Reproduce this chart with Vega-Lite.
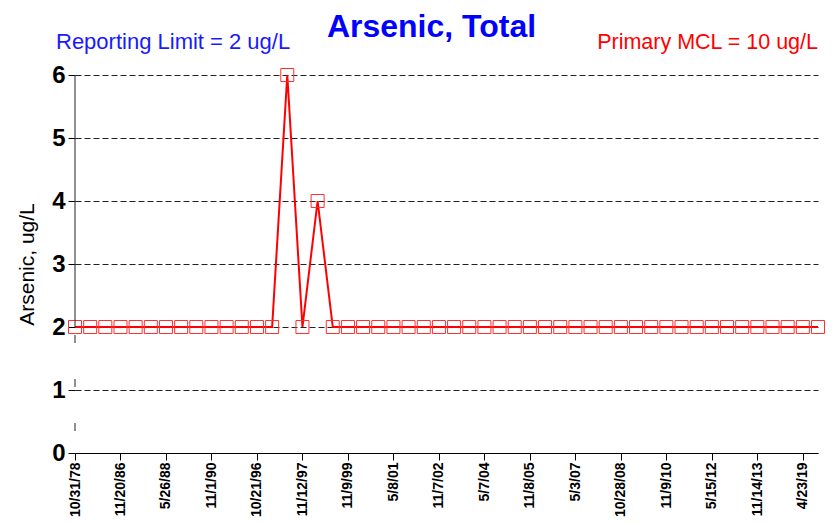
{
  "$schema": "https://vega.github.io/schema/vega-lite/v6.json",
  "width": 743,
  "height": 378,
  "autosize": "none",
  "padding": {"left": 75, "top": 75, "right": 17, "bottom": 71},
  "background": "white",
  "title": {
    "text": "Arsenic, Total",
    "font": "Liberation Sans",
    "fontSize": 32,
    "fontWeight": "bold",
    "color": "#0000ff",
    "anchor": "middle",
    "dx": -15,
    "offset": -38,
    "baseline": "alphabetic"
  },
  "config": {
    "view": {"stroke": null},
    "font": "Liberation Sans"
  },
  "datasets": {
    "arsenic": [
      {"date": "10/31/78", "value": 2},
      {"date": "10/28/81", "value": 2},
      {"date": "11/14/84", "value": 2},
      {"date": "11/20/86", "value": 2},
      {"date": "5/19/87", "value": 2},
      {"date": "11/17/87", "value": 2},
      {"date": "5/26/88", "value": 2},
      {"date": "11/15/88", "value": 2},
      {"date": "5/23/89", "value": 2},
      {"date": "11/1/90", "value": 2},
      {"date": "5/14/91", "value": 2},
      {"date": "11/10/93", "value": 2},
      {"date": "10/21/96", "value": 2},
      {"date": "5/13/97", "value": 2},
      {"date": "8/12/97", "value": 6},
      {"date": "11/12/97", "value": 2},
      {"date": "5/12/98", "value": 4},
      {"date": "11/10/98", "value": 2},
      {"date": "11/9/99", "value": 2},
      {"date": "5/9/00", "value": 2},
      {"date": "11/7/00", "value": 2},
      {"date": "5/8/01", "value": 2},
      {"date": "11/6/01", "value": 2},
      {"date": "5/7/02", "value": 2},
      {"date": "11/7/02", "value": 2},
      {"date": "5/6/03", "value": 2},
      {"date": "11/4/03", "value": 2},
      {"date": "5/7/04", "value": 2},
      {"date": "11/9/04", "value": 2},
      {"date": "5/10/05", "value": 2},
      {"date": "11/8/05", "value": 2},
      {"date": "5/9/06", "value": 2},
      {"date": "11/7/06", "value": 2},
      {"date": "5/3/07", "value": 2},
      {"date": "11/6/07", "value": 2},
      {"date": "5/6/08", "value": 2},
      {"date": "10/28/08", "value": 2},
      {"date": "5/12/09", "value": 2},
      {"date": "11/10/09", "value": 2},
      {"date": "11/9/10", "value": 2},
      {"date": "5/10/11", "value": 2},
      {"date": "11/8/11", "value": 2},
      {"date": "5/15/12", "value": 2},
      {"date": "11/13/12", "value": 2},
      {"date": "5/14/13", "value": 2},
      {"date": "11/14/13", "value": 2},
      {"date": "5/13/14", "value": 2},
      {"date": "11/11/14", "value": 2},
      {"date": "4/23/19", "value": 2},
      {"date": "10/22/19", "value": 2}
    ],
    "single": [{}]
  },
  "layer": [
    {
      "data": {"name": "arsenic"},
      "mark": {"type": "line", "color": "#ff0000", "strokeWidth": 2},
      "encoding": {
        "x": {
          "field": "date",
          "type": "ordinal",
          "sort": null,
          "scale": {"type": "point", "padding": 0},
          "axis": {
            "values": ["10/31/78", "11/20/86", "5/26/88", "11/1/90", "10/21/96", "11/12/97", "11/9/99", "5/8/01", "11/7/02", "5/7/04", "11/8/05", "5/3/07", "10/28/08", "11/9/10", "5/15/12", "11/14/13", "4/23/19"],
            "title": null,
            "labelAngle": 270,
            "labelAlign": "right",
            "labelBaseline": "middle",
            "labelFontSize": 14,
            "labelFontWeight": "bold",
            "labelColor": "#000000",
            "labelPadding": 2,
            "tickSize": 7,
            "tickColor": "#000000",
            "domainColor": "#000000",
            "grid": false
          }
        },
        "y": {
          "field": "value",
          "type": "quantitative",
          "scale": {"domain": [0, 6], "nice": false},
          "axis": {
            "values": [0, 1, 2, 3, 4, 5, 6],
            "format": "d",
            "title": "Arsenic, ug/L",
            "titleFontSize": 21,
            "titleFontWeight": "normal",
            "titleColor": "#000000",
            "titlePadding": 14,
            "labelFontSize": 24,
            "labelFontWeight": "bold",
            "labelColor": "#000000",
            "labelPadding": 3,
            "tickSize": 7,
            "tickColor": "#000000",
            "domain": false,
            "grid": true,
            "gridColor": "#222222",
            "gridDash": [6, 3],
            "gridWidth": 1
          }
        }
      }
    },
    {
      "data": {"name": "arsenic"},
      "mark": {"type": "point", "shape": "square", "filled": false, "size": 169, "strokeWidth": 1, "color": "#ff3030", "opacity": 1},
      "encoding": {
        "x": {"field": "date", "type": "ordinal", "sort": null},
        "y": {"field": "value", "type": "quantitative"}
      }
    },
    {
      "data": {"name": "single"},
      "mark": {"type": "rule", "color": "#222222", "strokeWidth": 1},
      "encoding": {
        "x": {"datum": "10/31/78", "type": "ordinal"},
        "y": {"datum": 2, "type": "quantitative"},
        "y2": {"datum": 6}
      }
    },
    {
      "data": {"name": "single"},
      "mark": {"type": "rule", "color": "#222222", "strokeWidth": 1, "strokeDash": [8, 36], "strokeDashOffset": -8},
      "encoding": {
        "x": {"datum": "10/31/78", "type": "ordinal"},
        "y": {"datum": 2, "type": "quantitative"},
        "y2": {"datum": 0}
      }
    },
    {
      "data": {"name": "single"},
      "mark": {"type": "text", "text": "Reporting Limit = 2 ug/L", "align": "left", "baseline": "alphabetic", "dx": -19, "fontSize": 22, "color": "#1a1aff"},
      "encoding": {
        "x": {"datum": "10/31/78", "type": "ordinal"},
        "y": {"datum": 6.41, "type": "quantitative"}
      }
    },
    {
      "data": {"name": "single"},
      "mark": {"type": "text", "text": "Primary MCL = 10 ug/L", "align": "right", "baseline": "alphabetic", "fontSize": 21.5, "color": "#ff0000"},
      "encoding": {
        "x": {"datum": "10/22/19", "type": "ordinal"},
        "y": {"datum": 6.41, "type": "quantitative"}
      }
    }
  ]
}
